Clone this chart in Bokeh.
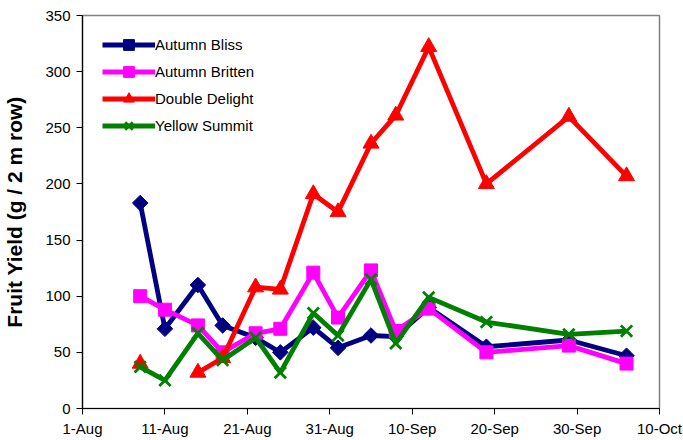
import numpy as np
import pandas as pd
from bokeh.plotting import figure
from bokeh.models import FixedTicker, Legend, LegendItem, Range1d
from bokeh.embed import file_html
from bokeh.resources import INLINE

# ---- data ----
dates = ["2008-08-08", "2008-08-11", "2008-08-15", "2008-08-18", "2008-08-22",
         "2008-08-25", "2008-08-29", "2008-09-01", "2008-09-05", "2008-09-08",
         "2008-09-12", "2008-09-19", "2008-09-29", "2008-10-06"]
autumn_bliss = [183, 71, 110, 74, 63, 50, 72, 54, 65, 64, 90, 55, 61, 47]
autumn_britten = [100, 88, 74, 50, 67, 71, 121, 81, 123, 69, 89, 50, 56, 40]
double_delight = [40, np.nan, 32, 45, 108, 106, 191, 175, 236, 261, 322, 200, 260, 207]
yellow_summit = [37, 25, 67, 43, 63, 32, 85, 65, 115, 58, 99, 77, 66, 69]
series_names = ["Autumn Bliss", "Autumn Britten", "Double Delight", "Yellow Summit"]
tick_dates = ["2008-08-01", "2008-08-11", "2008-08-21", "2008-08-31",
              "2008-09-10", "2008-09-20", "2008-09-30", "2008-10-10"]
tick_labels = ["1-Aug", "11-Aug", "21-Aug", "31-Aug", "10-Sep", "20-Sep", "30-Sep", "10-Oct"]
y_ticks = [0, 50, 100, 150, 200, 250, 300, 350]

x = pd.to_datetime(dates)
tick_ms = [pd.Timestamp(d).value / 1e6 for d in tick_dates]

FONT = "Liberation Sans"

p = figure(width=683, height=440, x_axis_type="datetime",
           output_backend="svg", toolbar_location=None,
           x_range=Range1d(tick_ms[0], tick_ms[-1]), y_range=Range1d(0, 350),
           min_border_left=79, min_border_right=24, min_border_top=15,
           min_border_bottom=32)
p.grid.visible = False
p.outline_line_color = "#808080"
p.outline_line_width = 1.5
p.background_fill_color = "white"
p.border_fill_color = "white"

p.xaxis.ticker = FixedTicker(ticks=tick_ms)
p.xaxis.major_label_overrides = {t: l for t, l in zip(tick_ms, tick_labels)}
p.yaxis.ticker = FixedTicker(ticks=y_ticks)
for ax in (p.xaxis, p.yaxis):
    ax.axis_line_color = "black"
    ax.axis_line_width = 1.2
    ax.major_tick_line_color = "black"
    ax.major_tick_in = 0
    ax.major_tick_out = 6
    ax.minor_tick_line_color = None
    ax.major_label_text_font = FONT
    ax.major_label_text_font_size = "15px"
    ax.major_label_text_color = "black"
p.xaxis.major_label_standoff = 5
p.yaxis.major_label_standoff = 6
p.yaxis.axis_label = "Fruit Yield (g / 2 m row)"
p.yaxis.axis_label_text_font = FONT
p.yaxis.axis_label_text_font_size = "21px"
p.yaxis.axis_label_text_font_style = "bold"
p.yaxis.axis_label_text_color = "black"
p.yaxis.axis_label_standoff = 16

items = []
specs = [
    (autumn_bliss, "#000080", dict(marker="square", angle=np.pi / 4, size=11)),
    (autumn_britten, "#FF00FF", dict(marker="square", size=13)),
    (double_delight, "#FF0000", dict(marker="triangle", size=16)),
    (yellow_summit, "#008000", dict(marker="x", size=16, line_width=2.8)),
]
for name, (vals, col, mk) in zip(series_names, specs):
    r1 = p.line(x, vals, line_color=col, line_width=4.8)
    r2 = p.scatter(x, vals, fill_color=col, line_color=col, **mk)
    items.append(LegendItem(label=name, renderers=[r1, r2]))

legend = Legend(items=items, location=(20, 269), padding=0, margin=0,
                border_line_color=None, background_fill_alpha=0,
                glyph_width=53, glyph_height=27, label_height=27, spacing=0,
                label_standoff=0, label_text_font=FONT,
                label_text_font_size="15px", label_text_color="black")
p.add_layout(legend, "center")

open("out.html", "w").write(file_html(p, INLINE))
